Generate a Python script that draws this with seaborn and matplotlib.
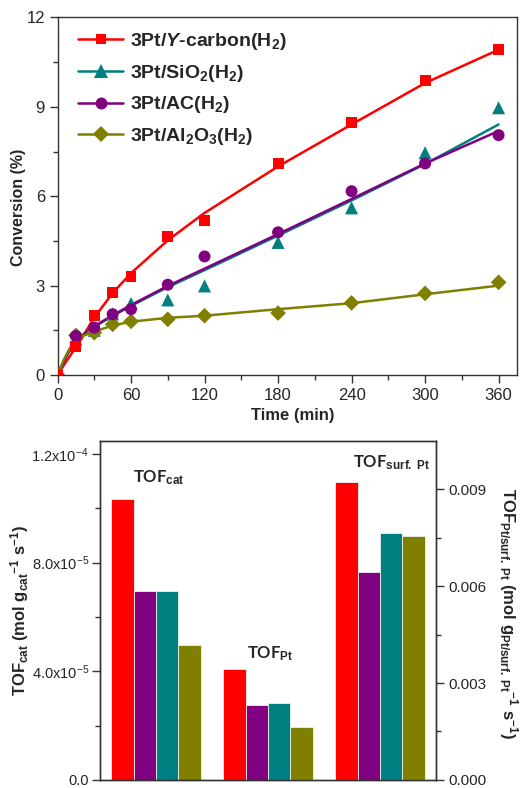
import numpy as np
import pandas as pd
import matplotlib
matplotlib.use('Agg')
import matplotlib.pyplot as plt
from matplotlib.lines import Line2D
from matplotlib.ticker import MultipleLocator, FixedLocator, FixedFormatter
import seaborn as sns

# ---------------- data: conversion vs time ----------------
time_min = [0, 15, 30, 45, 60, 90, 120, 180, 240, 300, 360]
conv_ycarbon = [0, 0.95, 2.0, 2.78, 3.31, 4.66, 5.19, 7.09, 8.47, 9.87, 10.91]
conv_sio2 = [0, 1.2, 1.5, 2.05, 2.4, 2.52, 2.99, 4.45, 5.61, 7.46, 8.97]
conv_ac = [0, 1.31, 1.59, 2.04, 2.21, 3.03, 3.98, 4.79, 6.17, 7.10, 8.05]
conv_al2o3 = [0, 1.33, 1.42, 1.70, 1.80, 1.87, 1.99, 2.08, 2.42, 2.74, 3.11]

# fitted curves
fit_time = [0, 5, 10, 15, 20, 30, 45, 60, 90, 120, 180, 240, 300, 360]
fit_ycarbon = [0, 0.32, 0.63, 0.93, 1.25, 1.93, 2.75, 3.42, 4.52, 5.44, 7.0, 8.41, 9.8, 10.92]
fit_sio2 = [0, 0.45, 0.85, 1.12, 1.32, 1.62, 1.98, 2.32, 2.95, 3.52, 4.68, 5.86, 7.08, 8.41]
fit_ac = [0, 0.45, 0.85, 1.12, 1.32, 1.64, 2.0, 2.35, 2.99, 3.57, 4.73, 5.91, 7.1, 8.19]
fit_al2o3 = [0, 0.5, 0.9, 1.15, 1.3, 1.46, 1.66, 1.79, 1.92, 1.99, 2.21, 2.41, 2.71, 3.0]

catalysts = ['Y-carbon', 'SiO2', 'AC', 'Al2O3']
legend_labels = [r'3Pt/$\mathbfit{Y}$-carbon(H$_\mathbf{2}$)',
                 r'3Pt/SiO$_\mathbf{2}$(H$_\mathbf{2}$)',
                 r'3Pt/AC(H$_\mathbf{2}$)',
                 r'3Pt/Al$_\mathbf{2}$O$_\mathbf{3}$(H$_\mathbf{2}$)']

# ---------------- data: TOF bars ----------------
bar_groups = ['cat', 'Pt', 'surf']
bar_catalysts = ['Y-carbon', 'AC', 'SiO2', 'Al2O3']
tof_cat = [1.036e-4, 6.97e-5, 6.97e-5, 4.98e-5]
tof_pt = [3.44e-3, 2.33e-3, 2.38e-3, 1.64e-3]
tof_surf = [9.23e-3, 6.45e-3, 7.64e-3, 7.56e-3]

colors = {'Y-carbon': '#FF0000', 'SiO2': '#008080', 'AC': '#800080', 'Al2O3': '#808000'}
markers = {'Y-carbon': 's', 'SiO2': '^', 'AC': 'o', 'Al2O3': 'D'}
marker_sizes = {'Y-carbon': 62, 'SiO2': 88, 'AC': 74, 'Al2O3': 64}

# ---------------- style ----------------
sns.set_style('ticks')
plt.rcParams['font.family'] = ['Liberation Sans', 'DejaVu Sans']
plt.rcParams['mathtext.fontset'] = 'custom'
plt.rcParams['mathtext.rm'] = 'Liberation Sans'
plt.rcParams['mathtext.it'] = 'Liberation Sans:italic'
plt.rcParams['mathtext.bf'] = 'Liberation Sans:bold'
plt.rcParams['mathtext.bfit'] = 'Liberation Sans:italic:bold'
plt.rcParams['mathtext.sf'] = 'Liberation Sans'
spine_col = '#333333'

fig = plt.figure(figsize=(5.31, 7.88), dpi=100)

# ================= top panel =================
ax1 = fig.add_axes([0.1083, 0.5241, 0.8653, 0.4537])

fit_df = pd.DataFrame({
    'Time': fit_time * 4,
    'Conv': fit_ycarbon + fit_sio2 + fit_ac + fit_al2o3,
    'Catalyst': sum([[c] * len(fit_time) for c in catalysts], []),
})
pts_order = ['SiO2', 'Al2O3', 'AC', 'Y-carbon']
pts_vals = {'Y-carbon': conv_ycarbon, 'SiO2': conv_sio2, 'AC': conv_ac, 'Al2O3': conv_al2o3}
pts_df = pd.DataFrame({
    'Time': time_min * 4,
    'Conv': sum([pts_vals[c] for c in pts_order], []),
    'Catalyst': sum([[c] * len(time_min) for c in pts_order], []),
})

sns.lineplot(data=fit_df, x='Time', y='Conv', hue='Catalyst', hue_order=catalysts,
             palette=colors, linewidth=1.8, legend=False, sort=False, ax=ax1, zorder=2)
sns.scatterplot(data=pts_df, x='Time', y='Conv', hue='Catalyst', style='Catalyst',
                size='Catalyst', sizes=marker_sizes, size_order=catalysts,
                hue_order=catalysts, style_order=catalysts, palette=colors, markers=markers,
                linewidth=0, legend=False, ax=ax1, zorder=3)

ax1.set_xlim(0, 375)
ax1.set_ylim(0, 12)
ax1.set_xticks(range(0, 361, 60))
ax1.xaxis.set_minor_locator(MultipleLocator(30))
ax1.set_yticks([0, 3, 6, 9, 12])
ax1.yaxis.set_minor_locator(MultipleLocator(1.5))
ax1.tick_params(which='major', direction='out', length=6, width=1, labelsize=12,
                color=spine_col, pad=3, top=False, right=False)
ax1.tick_params(which='minor', direction='out', length=3.5, width=1, color=spine_col,
                top=False, right=False)
for sp in ax1.spines.values():
    sp.set_color(spine_col)
    sp.set_linewidth(1.0)
ax1.set_xlabel('Time (min)', fontsize=12, fontweight='bold', va='center')
ax1.xaxis.set_label_coords(0.5125, -0.112)
ax1.set_ylabel('Conversion (%)', fontsize=11.5, fontweight='bold', va='center')
ax1.yaxis.set_label_coords(-0.084, 0.47)

handles = [Line2D([0], [0], color=colors[c], marker=markers[c],
                  markersize=np.sqrt(marker_sizes[c]), linewidth=1.8, markeredgewidth=0)
           for c in catalysts]
leg = ax1.legend(handles, legend_labels, loc='upper left', bbox_to_anchor=(0.045, 0.962),
                 frameon=False, borderpad=0, borderaxespad=0, handlelength=2.3,
                 handletextpad=0.35, labelspacing=0.55, numpoints=1,
                 prop={'weight': 'bold', 'size': 14})

# ================= bottom panel =================
ax2 = fig.add_axes([0.1883, 0.0102, 0.6328, 0.4302])
ax3 = ax2.twinx()

left_df = pd.DataFrame({'Group': ['cat'] * 4, 'Catalyst': bar_catalysts, 'TOF': tof_cat})
right_df = pd.DataFrame({'Group': ['Pt'] * 4 + ['surf'] * 4,
                         'Catalyst': bar_catalysts * 2, 'TOF': tof_pt + tof_surf})

sns.barplot(data=left_df, x='Group', y='TOF', hue='Catalyst', order=bar_groups,
            hue_order=bar_catalysts, palette=colors, saturation=1, width=0.8,
            edgecolor='#f0f0f0', linewidth=0.6, legend=False, ax=ax2)
sns.barplot(data=right_df, x='Group', y='TOF', hue='Catalyst', order=bar_groups,
            hue_order=bar_catalysts, palette=colors, saturation=1, width=0.8,
            edgecolor='#f0f0f0', linewidth=0.6, legend=False, ax=ax3)

ax2.set_xlim(-0.5, 2.5)
ax2.set_xticks([])
ax3.set_xticks([])
ax2.set_xlabel('')
ax3.set_xlabel('')
ax2.set_ylim(0, 1.248e-4)
ax3.set_ylim(0, 0.01049)

ax2.yaxis.set_major_locator(FixedLocator([0, 4e-5, 8e-5, 1.2e-4]))
ax2.yaxis.set_major_formatter(FixedFormatter(['0.0', r'4.0x10$^{-5}$', r'8.0x10$^{-5}$',
                                              r'1.2x10$^{-4}$']))
ax2.yaxis.set_minor_locator(MultipleLocator(2e-5))
ax3.yaxis.set_major_locator(FixedLocator([0, 0.003, 0.006, 0.009]))
ax3.yaxis.set_major_formatter(FixedFormatter(['0.000', '0.003', '0.006', '0.009']))
ax3.yaxis.set_minor_locator(MultipleLocator(0.0015))

for a in (ax2, ax3):
    a.tick_params(which='major', direction='out', length=6, width=1, labelsize=11,
                  color=spine_col, pad=3, top=False, bottom=False)
    a.tick_params(which='minor', direction='out', length=3.5, width=1, color=spine_col,
                  top=False, bottom=False)
    for sp in a.spines.values():
        sp.set_color(spine_col)
        sp.set_linewidth(1.0)
ax2.tick_params(axis='y', which='major', labelsize=10.5, pad=2)
ax2.tick_params(axis='y', which='both', right=False, left=True)
ax3.tick_params(axis='y', which='both', right=True, left=False)

ax2.set_ylabel(r'$\mathbf{TOF_{cat}\ (mol\ g_{cat}{}^{-1}\ s^{-1})}$', fontsize=12,
               va='center', ha='center')
ax2.yaxis.set_label_coords(-0.238, 0.5)
ax3.set_ylabel(r'$\mathbf{TOF_{Pt/surf.\ Pt}\ (mol\ g_{Pt/surf.\ Pt}{}^{-1}\ s^{-1})}$',
               fontsize=12, rotation=270, va='center', ha='center')
ax3.yaxis.set_label_coords(1.215, 0.49)

ann_font = ['Lato', 'Liberation Sans', 'DejaVu Sans']
ax2.text(0.098, 0.879, r'TOF$_\mathbf{cat}$', transform=ax2.transAxes, fontsize=12,
         fontweight='bold', family=ann_font, va='baseline', ha='left')
ax2.text(0.4375, 0.358, r'TOF$_\mathbf{Pt}$', transform=ax2.transAxes, fontsize=12,
         fontweight='bold', family=ann_font, va='baseline', ha='left')
ax2.text(0.753, 0.923, r'TOF$_\mathbf{surf.\ Pt}$', transform=ax2.transAxes, fontsize=12,
         fontweight='bold', family=ann_font, va='baseline', ha='left')

fig.savefig('out.png', dpi=100)
